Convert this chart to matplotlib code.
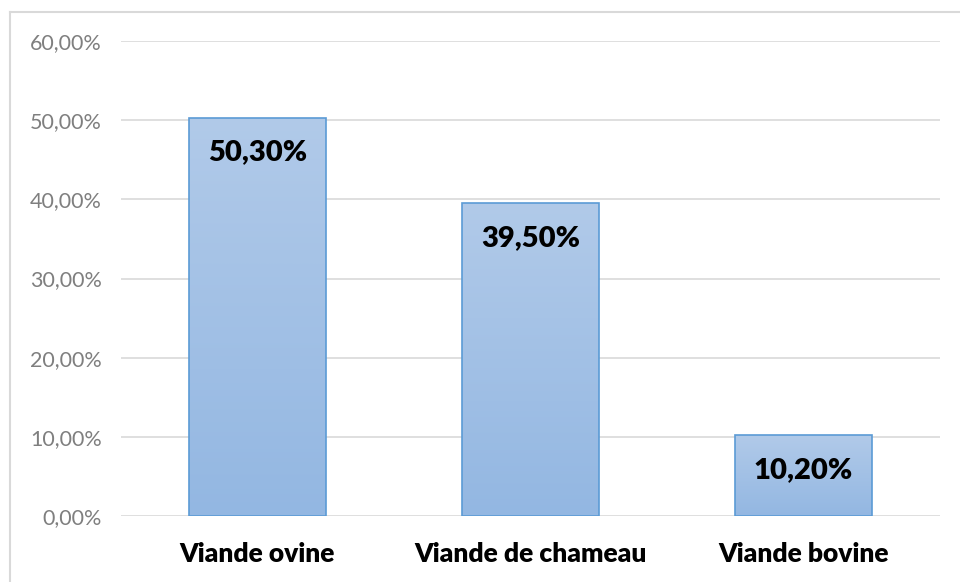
import matplotlib
matplotlib.use("Agg")
import matplotlib.pyplot as plt
import numpy as np
from matplotlib.lines import Line2D
from matplotlib.colors import LinearSegmentedColormap

categories = ["Viande ovine", "Viande de chameau", "Viande bovine"]
values = [50.30, 39.50, 10.20]
yticks = [0, 10, 20, 30, 40, 50, 60]

plt.rcParams['font.family'] = ['Lato', 'DejaVu Sans']

fig = plt.figure(figsize=(9.6, 5.82), dpi=100)
# outer border (top and left only visible)
bx, by = 9.5/960, 1 - 11.5/582
fig.add_artist(Line2D([bx, 1.01], [by, by], transform=fig.transFigure, color='#D9D9D9', linewidth=1.5))
fig.add_artist(Line2D([bx, bx], [by, -0.01], transform=fig.transFigure, color='#D9D9D9', linewidth=1.5))

ax = fig.add_axes([121/960, 1 - 516/582, (940-121)/960, (516-41)/582])
x = np.arange(len(categories))
bars = ax.bar(x, values, width=0.5, color='none', edgecolor='#5B9BD5', linewidth=1.2, zorder=3)

grad = np.linspace(0, 1, 256).reshape(-1, 1)
cmap = LinearSegmentedColormap.from_list('g', ['#B1CAE9', '#93B7E2'])
for b in bars:
    x0, y0 = b.get_x(), b.get_y()
    w, h = b.get_width(), b.get_height()
    im = ax.imshow(grad, extent=[x0, x0 + w, y0, y0 + h], aspect='auto', cmap=cmap,
                   origin='upper', zorder=2)
    im.set_clip_path(b)

for xi, v in zip(x, values):
    ax.text(xi, v - 4.4, f"{v:.2f}%".replace('.', ','), ha='center', va='center',
            fontsize=21, fontweight='heavy', color='black', zorder=4)

ax.set_xlim(-0.5, 2.5)
ax.set_ylim(0, 60)
ax.set_yticks(yticks)
ax.set_yticklabels([f"{t:.2f}%".replace('.', ',') for t in yticks], color='#7F7F7F', fontsize=15.5)
ax.set_xticks(x)
ax.set_xticklabels(categories, fontsize=19, fontweight='heavy')
ax.tick_params(axis='both', length=0)
ax.tick_params(axis='y', pad=14)
ax.tick_params(axis='x', pad=19)
ax.grid(axis='y', color='#D9D9D9', linewidth=1.2, zorder=0)
for s in ax.spines.values():
    s.set_visible(False)

fig.savefig("out.png", dpi=100)
